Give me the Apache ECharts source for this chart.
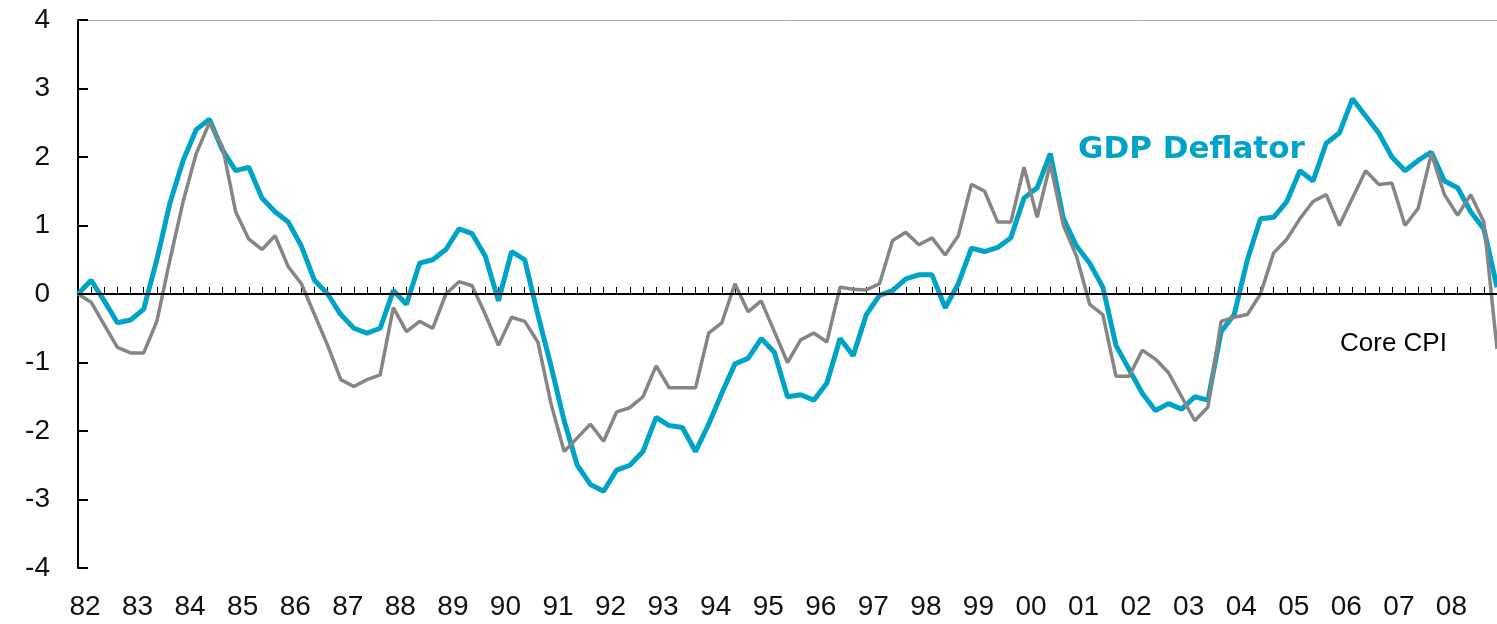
<!DOCTYPE html>
<html>
<head>
<meta charset="utf-8">
<title>GDP Deflator vs Core CPI</title>
<script src="https://cdn.jsdelivr.net/npm/echarts@6/dist/echarts.min.js"></script>
<style>
  html, body { margin: 0; padding: 0; background: #fff; }
  #chart { width: 1497px; height: 624px; }
</style>
</head>
<body>
<div id="chart"></div>
<script>
// year tick labels, one per 4 quarters (82Q1 .. 08Q4, plus 09Q1 end point)
var years = ['82', '83', '84', '85', '86', '87', '88', '89', '90', '91', '92', '93', '94',
  '95', '96', '97', '98', '99', '00', '01', '02', '03', '04', '05', '06', '07', '08'];

// quarterly values
var gdpDeflator = [
  0.0, 0.2, -0.1, -0.42, -0.38, -0.22, 0.5, 1.33, 1.95, 2.4,
  2.55, 2.1, 1.8, 1.85, 1.4, 1.2, 1.05, 0.7, 0.2, 0.0,
  -0.3, -0.5, -0.57, -0.5, 0.05, -0.15, 0.45, 0.5, 0.65, 0.95,
  0.88, 0.55, -0.1, 0.62, 0.5, -0.3, -1.05, -1.85, -2.5, -2.78,
  -2.88, -2.57, -2.5, -2.3, -1.8, -1.92, -1.95, -2.3, -1.9, -1.45,
  -1.02, -0.94, -0.65, -0.85, -1.5, -1.47, -1.55, -1.3, -0.65, -0.9,
  -0.3, -0.02, 0.05, 0.22, 0.28, 0.28, -0.2, 0.15, 0.67, 0.62,
  0.68, 0.82, 1.4, 1.55, 2.05, 1.1, 0.7, 0.45, 0.1, -0.75,
  -1.1, -1.45, -1.7, -1.6, -1.68, -1.5, -1.55, -0.55, -0.3, 0.5,
  1.1, 1.12, 1.35, 1.8, 1.65, 2.2, 2.35, 2.85, 2.6, 2.35,
  2.0, 1.8, 1.95, 2.07, 1.65, 1.55, 1.2, 0.95, 0.1
];

var coreCPI = [
  0.0, -0.12, -0.45, -0.78, -0.86, -0.86, -0.4, 0.5, 1.35, 2.05,
  2.5, 2.15, 1.2, 0.8, 0.65, 0.85, 0.4, 0.15, -0.3, -0.75,
  -1.25, -1.35, -1.25, -1.18, -0.2, -0.55, -0.4, -0.5, 0.0, 0.18,
  0.12, -0.3, -0.75, -0.34, -0.4, -0.7, -1.6, -2.3, -2.1, -1.9,
  -2.15, -1.72, -1.66, -1.5, -1.05, -1.37, -1.37, -1.37, -0.57, -0.42,
  0.15, -0.26, -0.1, -0.55, -1.0, -0.67, -0.57, -0.7, 0.1, 0.07,
  0.06, 0.15, 0.78, 0.9, 0.72, 0.82, 0.57, 0.85, 1.6, 1.5,
  1.05, 1.05, 1.85, 1.12, 1.9, 1.0, 0.55, -0.15, -0.3, -1.2,
  -1.2, -0.82, -0.95, -1.15, -1.5, -1.85, -1.65, -0.4, -0.34, -0.3,
  0.0, 0.6, 0.8, 1.1, 1.35, 1.45, 1.0, 1.4, 1.8, 1.6,
  1.62, 1.0, 1.25, 2.05, 1.45, 1.15, 1.45, 1.05, -0.8
];

var quarters = [];
years.forEach(function (y) {
  for (var q = 1; q <= 4; q++) quarters.push(y + 'Q' + q);
});
quarters.push('09Q1');

var chart = echarts.init(document.getElementById('chart'));

var option = {
  animation: false,
  backgroundColor: '#fff',
  grid: { left: 78, right: 0, top: 20, bottom: 56 },
  xAxis: [
    {
      type: 'category',
      data: quarters,
      boundaryGap: false,
      axisLine: { lineStyle: { color: '#000', width: 2 } },
      axisTick: { inside: true, length: 7, interval: 0, lineStyle: { color: '#000', width: 1 } },
      axisLabel: {
        interval: function (i) { return i % 4 === 0 && i < 108; },
        formatter: function (v) { return v.slice(0, 2); },
        color: '#111',
        fontFamily: 'Liberation Sans',
        fontSize: 28,
        margin: 25,
        padding: [0, 0, 0, 14]
      },
      splitLine: { show: false }
    },
    {
      type: 'category',
      data: quarters,
      boundaryGap: false,
      position: 'top',
      axisLine: { lineStyle: { color: '#aaa', width: 1 } },
      axisTick: { show: false },
      axisLabel: { show: false },
      splitLine: { show: false }
    }
  ],
  yAxis: {
    type: 'value',
    min: -4,
    max: 4,
    interval: 1,
    axisLine: { show: true, lineStyle: { color: '#000', width: 2 } },
    axisTick: { show: true, inside: true, length: 10, lineStyle: { color: '#000', width: 2 } },
    axisLabel: {
      color: '#111',
      fontFamily: 'Liberation Sans',
      fontSize: 28,
      margin: 28
    },
    splitLine: { show: false }
  },
  series: [
    {
      name: 'GDP Deflator',
      type: 'line',
      data: gdpDeflator,
      showSymbol: false,
      lineStyle: { color: '#00a3c8', width: 5 },
      itemStyle: { color: '#00a3c8' },
      markLine: {
        silent: true,
        symbol: 'none',
        label: { show: false },
        lineStyle: { color: '#000', width: 2, type: 'solid' },
        data: [{ yAxis: 0 }]
      }
    },
    {
      name: 'Core CPI',
      type: 'line',
      data: coreCPI,
      showSymbol: false,
      lineStyle: { color: '#858585', width: 3.5 },
      itemStyle: { color: '#858585' }
    }
  ],
  graphic: [
    {
      type: 'text',
      left: 1078,
      top: 134,
      style: {
        text: 'GDP Deflator',
        fill: '#00a3c8',
        font: 'bold 31px "DejaVu Sans"'
      }
    },
    {
      type: 'text',
      left: 1340,
      top: 331,
      style: {
        text: 'Core CPI',
        fill: '#000',
        font: '26px "Liberation Sans"'
      }
    }
  ]
};

chart.setOption(option);
</script>
</body>
</html>
